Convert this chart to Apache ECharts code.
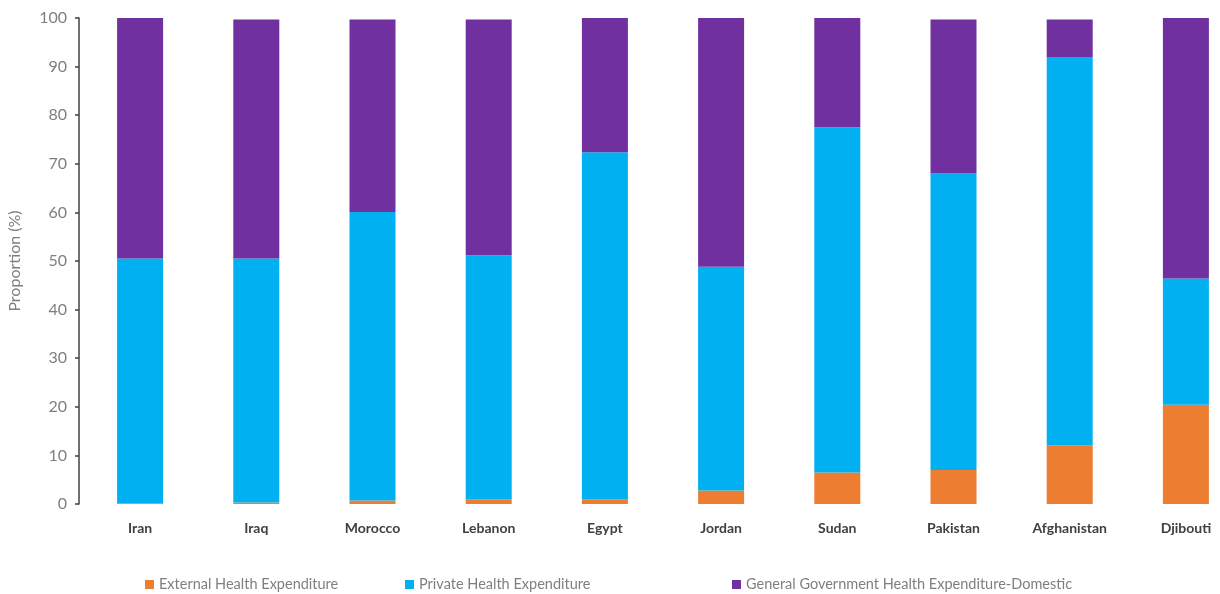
<!DOCTYPE html>
<html>
<head>
<meta charset="utf-8">
<script src="https://cdn.jsdelivr.net/npm/echarts@6/dist/echarts.min.js"></script>
<style>html,body{margin:0;padding:0;background:#fff;}#c{width:1220px;height:594px;}</style>
</head>
<body>
<div id="c"></div>
<script>
var categories = ['Iran','Iraq','Morocco','Lebanon','Egypt','Jordan','Sudan','Pakistan','Afghanistan','Djibouti'];
var seriesNames = ['External Health Expenditure','Private Health Expenditure','General Government Health Expenditure-Domestic'];
var externalHE = [0.1, 0.3, 0.7, 1.0, 1.0, 2.8, 6.5, 7.0, 12.1, 20.4];
var privateHE = [50.4, 50.2, 59.4, 50.2, 71.4, 46.0, 71.0, 61.0, 79.9, 26.0];
var governmentHE = [49.5, 49.2, 39.6, 48.5, 27.6, 51.2, 22.5, 31.7, 7.7, 53.6];
var yTicks = [0,10,20,30,40,50,60,70,80,90,100];
var colors = ['#ED7D31','#00B0F0','#7030A0'];

var chart = echarts.init(document.getElementById('c'), null, {renderer:'canvas'});
var font = 'Lato, "Open Sans", sans-serif';
var dataSets = [externalHE, privateHE, governmentHE];
var legendLefts = [140, 400, 727];
chart.setOption({
  animation: false,
  backgroundColor: '#ffffff',
  grid: {left: 82, top: 18, bottom: 90, right: -24, containLabel: false, outerBoundsMode: 'none'},
  legend: seriesNames.map(function(n, i){
    return {data:[n], left: legendLefts[i], top: 572, icon:'rect', itemWidth:9, itemHeight:9, itemGap:4,
      textStyle:{color:'#7f7f7f', fontSize:14.5, fontFamily:font}};
  }),
  xAxis: {
    type: 'category', data: categories,
    axisLine: {show:false}, axisTick: {show:false},
    axisLabel: {color:'#404040', fontSize:14, fontWeight:'bold', fontFamily:font, margin:17}
  },
  yAxis: {
    type: 'value', min: 0, max: 100, interval: 10, offset: 3,
    name: 'Proportion (%)', nameLocation: 'middle', nameGap: 56, nameRotate: 90,
    nameTextStyle: {color:'#7f7f7f', fontSize:16, fontFamily:font},
    axisLine: {show:true, lineStyle:{color:'#404040', width:1.5}},
    axisTick: {show:true, length:4, lineStyle:{color:'#404040', width:1.5}},
    splitLine: {show:false},
    axisLabel: {color:'#7f7f7f', fontSize:16, fontFamily:font, margin:12,
      formatter: function(v){ return yTicks.indexOf(v) >= 0 ? String(v) : ''; }}
  },
  series: seriesNames.map(function(n, i){
    return {name:n, type:'bar', stack:'total', barWidth:46, data: dataSets[i],
      itemStyle:{color: colors[i]}};
  })
});
</script>
</body>
</html>
